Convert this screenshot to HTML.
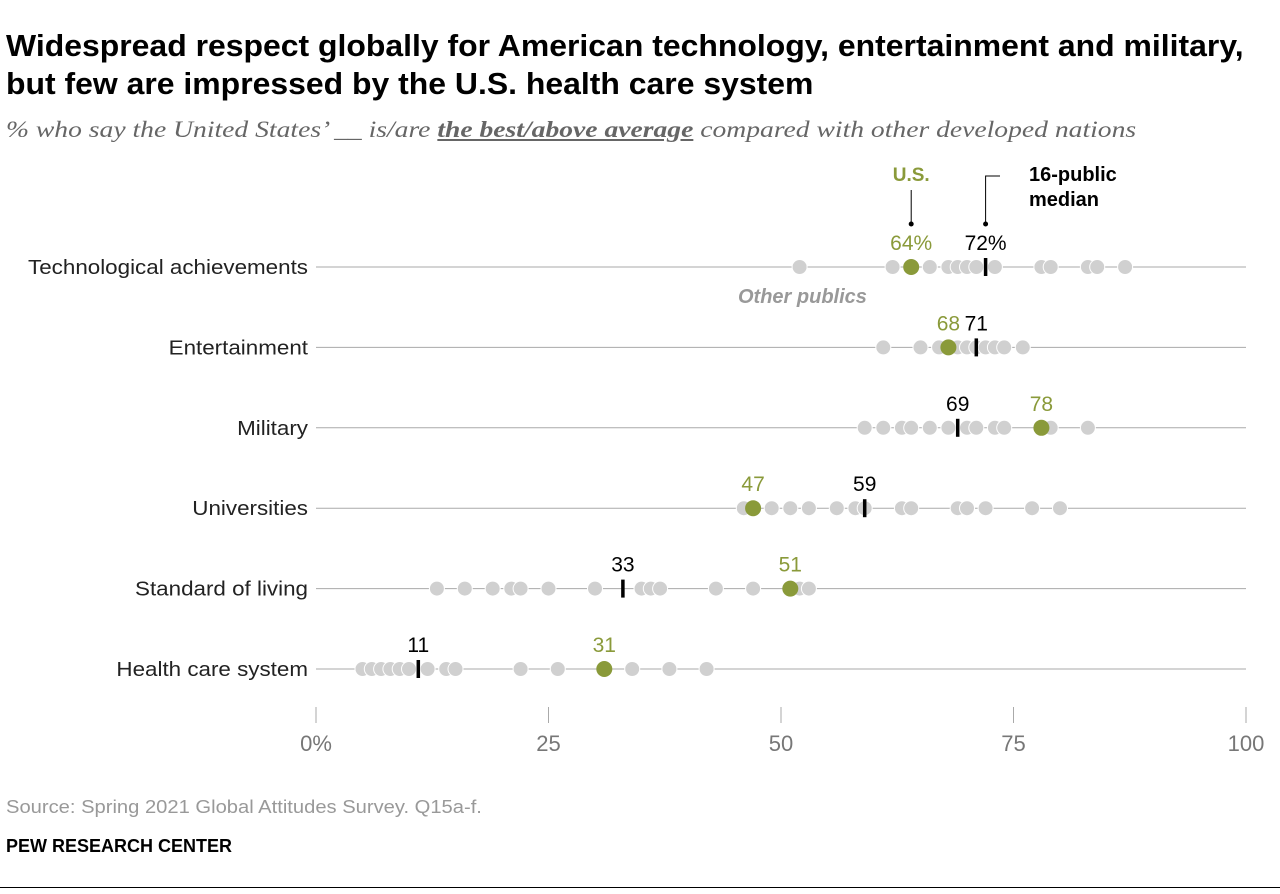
<!DOCTYPE html>
<html><head><meta charset="utf-8"><style>
body{margin:0;background:#fff;font-family:"Liberation Sans",sans-serif;}
.t{position:absolute;left:6px;font-weight:bold;font-size:31px;line-height:38px;color:#000;white-space:nowrap;transform-origin:0 0;transform:scaleX(1.03);}
</style></head><body>
<div style="position:relative;width:1280px;height:894px;overflow:hidden">
<div class="t" style="top:27px">Widespread respect globally for American technology, entertainment and military,<br>but few are impressed by the U.S. health care system</div>
<div style="position:absolute;left:6px;top:117px;font-family:'Liberation Serif',serif;font-style:italic;font-size:23px;color:#666;white-space:nowrap;transform-origin:0 0;transform:scaleX(1.2)">% who say the United States’ __ is/are <b style="text-decoration:underline">the best/above average</b> compared with other developed nations</div>
<svg id="svg" width="1280" height="894" style="position:absolute;left:0;top:0"></svg>
<div style="position:absolute;left:6px;top:797px;font-size:18px;color:#999;white-space:nowrap;transform-origin:0 0;transform:scaleX(1.12)">Source: Spring 2021 Global Attitudes Survey. Q15a-f.</div>
<div style="position:absolute;left:6px;top:836px;font-size:18px;font-weight:bold;color:#000">PEW RESEARCH CENTER</div>
<div style="position:absolute;left:0;top:887px;width:1280px;height:1px;background:#000"></div>
</div>
<script>
const categories=["Technological achievements","Entertainment","Military","Universities","Standard of living","Health care system"];
const usValues=[64,68,78,47,51,31];
const medians=[72,71,69,59,33,11];
const others=[
[52,62,66,68,69,70,71,73,78,79,83,84,87],
[61,65,67,69,70,71,72,73,74,76],
[59,61,63,64,66,68,70,71,73,74,79,83],
[46,49,51,53,56,58,59,63,64,69,70,72,77,80],
[13,16,19,21,22,25,30,35,36,37,43,47,52,53],
[5,6,7,8,9,10,12,14,15,22,26,34,38,42]];
const ticks=[0,25,50,75,100];
const NS="http://www.w3.org/2000/svg",svg=document.getElementById('svg');
const x=v=>316+v*9.3, y=i=>267+i*80.4;
function mk(t,a,txt){const e=document.createElementNS(NS,t);for(const k in a)e.setAttribute(k,a[k]);if(txt!=null)e.textContent=txt;svg.appendChild(e);return e;}
categories.forEach((c,i)=>{
 let e=mk('line',{x1:316,x2:1246,y1:y(i),y2:y(i),stroke:'#aaa','stroke-width':1});
 
 e=mk('text',{x:308,y:y(i)+7,'text-anchor':'end','font-size':20,fill:'#222',transform:`translate(308 0) scale(1.12 1) translate(-308 0)`},c);
 
 others[i].forEach(v=>{e=mk('circle',{cx:x(v),cy:y(i),r:7.5,fill:'#d0d0d0',stroke:'#fff','stroke-width':1});
  });
 e=mk('line',{x1:x(medians[i]),x2:x(medians[i]),y1:y(i)-9,y2:y(i)+9,stroke:'#000','stroke-width':3.5});
 
 e=mk('circle',{cx:x(usValues[i]),cy:y(i),r:8,fill:'#8a9a3a'});
 
 const sfx=i==0?'%':'';
 e=mk('text',{x:x(usValues[i]),y:y(i)-17,'text-anchor':'middle','font-size':21,fill:'#8a9a3a'},usValues[i]+sfx);
 
 e=mk('text',{x:x(medians[i]),y:y(i)-17,'text-anchor':'middle','font-size':21,fill:'#000'},medians[i]+sfx);
 
});
ticks.forEach(t=>{let e=mk('line',{x1:x(t),x2:x(t),y1:707,y2:723,stroke:'#aaa'});
 
 e=mk('text',{x:x(t),y:751,'text-anchor':'middle','font-size':22,fill:'#777'},t+(t==0?'%':''));
 });
let e=mk('text',{x:x(64),y:181,'text-anchor':'middle','font-size':19,'font-weight':'bold',fill:'#8a9a3a'},'U.S.');

e=mk('line',{x1:x(64),x2:x(64),y1:190,y2:224,stroke:'#000'});
e=mk('circle',{cx:x(64),cy:224,r:2.5,fill:'#000'});
e=mk('polyline',{points:`${x(72)},224 ${x(72)},176 1000,176`,fill:'none',stroke:'#000'});
e=mk('circle',{cx:x(72),cy:224,r:2.5,fill:'#000'});
e=mk('text',{x:1029,y:181,'font-size':20,'font-weight':'bold'},'16-public');
e=mk('text',{x:1029,y:206,'font-size':20,'font-weight':'bold'},'median');
e=mk('text',{x:738,y:303,'font-size':20,'font-weight':'bold','font-style':'italic',fill:'#999'},'Other publics');
</script>
</body></html>
